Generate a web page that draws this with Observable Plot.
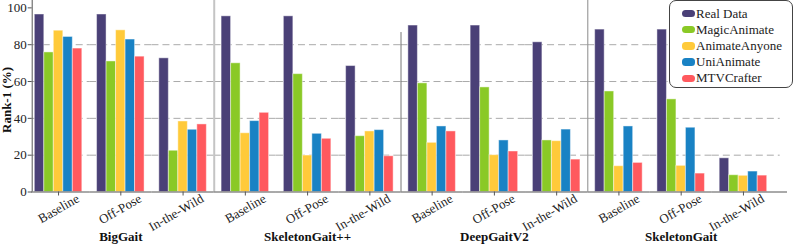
<!DOCTYPE html>
<html><head><meta charset="utf-8">
<script src="https://cdn.jsdelivr.net/npm/d3@7"></script>
<script src="https://cdn.jsdelivr.net/npm/@observablehq/plot@0.6"></script>
<style>
body{margin:0;background:#fff}
#wrap{position:relative;width:793px;height:249px;font-family:"Liberation Serif","Times New Roman",serif}
.legend{position:absolute;left:669px;top:0px;width:124px;height:88px;box-sizing:border-box;border:1px solid #444;border-radius:7px;background:#fff}
.item{position:absolute;left:12px;display:flex;align-items:center;font-size:13px;color:#222;height:14px;white-space:nowrap}
.sw{width:13px;height:7.5px;border-radius:3.5px;margin-right:1px}
</style></head><body><div id="wrap"></div>
<script>
const groups = ["BigGait", "SkeletonGait++", "DeepGaitV2", "SkeletonGait"];
const subsets = ["Baseline", "Off-Pose", "In-the-Wild"];
const series = ["Real Data", "MagicAnimate", "AnimateAnyone", "UniAnimate", "MTVCrafter"];
const colors = ["#4a4077", "#8ac926", "#ffca3a", "#1982c4", "#ff595e"];
const realData      = [96.4, 96.4, 72.6, 95.4, 95.4, 68.4, 90.4, 90.4, 81.3, 88.2, 88.2, 18.3];
const magicAnimate  = [75.8, 70.9, 22.4, 69.9, 64.0, 30.3, 59.0, 56.8, 28.0, 54.6, 50.3, 9.1];
const animateAnyone = [87.6, 87.8, 38.3, 31.9, 19.8, 32.9, 26.7, 20.0, 27.6, 14.0, 14.2, 8.8];
const uniAnimate    = [84.2, 82.8, 33.8, 38.5, 31.6, 33.6, 35.6, 28.0, 33.9, 35.6, 34.9, 11.1];
const mtvCrafter    = [77.9, 73.5, 36.7, 43.0, 28.9, 19.4, 32.9, 22.0, 17.6, 15.8, 10.0, 8.9];
const yTicks = [0, 20, 40, 60, 80, 100];
const gridTicks = [20, 40, 60, 80];
const yLabel = "Rank-1 (%)";

const values = [realData, magicAnimate, animateAnyone, uniAnimate, mtvCrafter];
const keys = groups.flatMap(g => subsets.map(s => g + "|" + s));
const data = keys.flatMap((k, i) => series.map((s, j) => ({key: k, series: s, value: values[j][i]})));
const first = keys[0], last = keys[keys.length - 1];
const middleKeys = keys.slice(1, -1);
const gridData = keys.flatMap(k => gridTicks.map(v => ({key: k, v})));
const sepKeys = [groups[1] + "|" + subsets[0], groups[2] + "|" + subsets[0], groups[3] + "|" + subsets[0]];
const sepTop = [104, 86.6, 104];
const sepStyle = [{stroke: "#c4c4c4", w: 2}, {stroke: "#777", w: 1}, {stroke: "#8a8a8a", w: 1}];

const half = 7.37;   // half gap between facets
const bw = 4.75;     // half of a series band

const marks = [
  // dashed gridlines
  Plot.ruleY(gridData.filter(d => d.key === first), {fx: "key", y: "v", stroke: "#aaa", strokeDasharray: "7,4", insetLeft: -2.6, insetRight: -half}),
  Plot.ruleY(gridData.filter(d => middleKeys.includes(d.key)), {fx: "key", y: "v", stroke: "#aaa", strokeDasharray: "7,4", insetLeft: -half, insetRight: -half}),
  Plot.ruleY(gridData.filter(d => d.key === last), {fx: "key", y: "v", stroke: "#aaa", strokeDasharray: "7,4", insetLeft: -half, insetRight: -13}),
  // bars
  Plot.barY(data, {fx: "key", x: "series", y: "value", fill: "series", stroke: "white", strokeOpacity: 0.45, strokeWidth: 1}),
  // group separators
  ...sepKeys.map((k, i) => Plot.ruleX([k], {fx: d => d, x: () => series[0], y1: 0, y2: () => sepTop[i], dx: -(bw + half), stroke: sepStyle[i].stroke, strokeWidth: sepStyle[i].w})),
  // x axis line
  Plot.ruleY([first], {fx: d => d, y: () => 0, stroke: "#555", insetLeft: -3.3, insetRight: -half}),
  Plot.ruleY(middleKeys, {fx: d => d, y: () => 0, stroke: "#555", insetLeft: -half, insetRight: -half}),
  Plot.ruleY([last], {fx: d => d, y: () => 0, stroke: "#555", insetLeft: -half, insetRight: -20.3}),
  // y axis line
  Plot.ruleX([first], {fx: d => d, x: () => series[0], y1: 0, y2: () => 104, dx: -(bw + 2.6), stroke: "#555"}),
  Plot.axisY({ticks: yTicks, tickSize: 4, tickPadding: 1.5, dx: -2.6, label: null, stroke: "#555", fill: "#222"}),
  Plot.axisFx({anchor: "bottom", tickSize: 4, tickFormat: () => "", label: null, stroke: "#555"}),
  // rotated subset labels
  Plot.text(keys, {fx: d => d, text: d => d.split("|")[1], frameAnchor: "bottom", textAnchor: "end", lineAnchor: "middle", rotate: -30, dx: 19.5, dy: 5.5, fill: "#222"}),
  // group labels
  Plot.text(groups, {fx: g => g + "|" + subsets[1], text: d => d, frameAnchor: "bottom", dy: 48.5, fontWeight: "bold", fill: "#111"}),
  // y label
  Plot.text([yLabel], {fx: () => first, y: () => 50, text: d => d, frameAnchor: "left", textAnchor: "middle", lineAnchor: "middle", rotate: -90, dx: -28, fontWeight: "bold", fill: "#111"})
];

const chart = Plot.plot({
  width: 793,
  height: 249,
  marginLeft: 34.3,
  marginRight: 26.3,
  marginTop: 0,
  marginBottom: 57.5,
  style: {fontFamily: '"Liberation Serif","Times New Roman",serif', fontSize: "13px", background: "white"},
  fx: {domain: keys, paddingInner: 0.237, paddingOuter: 0, axis: null, round: false},
  x: {domain: series, padding: 0, axis: null, round: false},
  y: {domain: [0, 104], axis: null},
  color: {domain: series, range: colors},
  marks
});
const wrap = document.getElementById("wrap");
wrap.appendChild(chart);

const legend = document.createElement("div");
legend.className = "legend";
series.forEach((s, i) => {
  const it = document.createElement("div");
  it.className = "item";
  it.style.top = (5.5 + i * 16.2) + "px";
  const sw = document.createElement("div");
  sw.className = "sw";
  sw.style.background = colors[i];
  it.appendChild(sw);
  const t = document.createElement("span");
  t.textContent = s;
  it.appendChild(t);
  legend.appendChild(it);
});
wrap.appendChild(legend);
</script></body></html>
